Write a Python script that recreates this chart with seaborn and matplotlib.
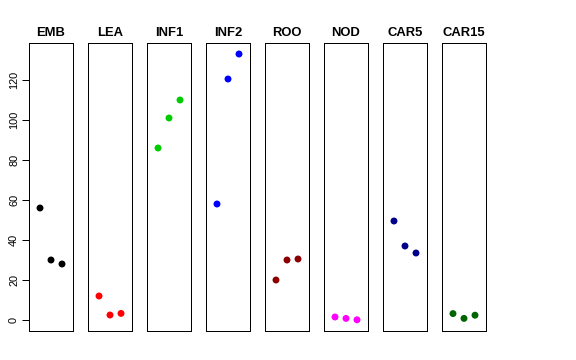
import seaborn as sns
import matplotlib.pyplot as plt
import pandas as pd

# tissue panels, three replicates each
tissues = ["EMB", "LEA", "INF1", "INF2", "ROO", "NOD", "CAR5", "CAR15"]
colors = ["black", "red", "#00CD00", "blue", "#8B0000", "magenta", "#00008B", "#006400"]
replicate = [1, 2, 3]

emb = [56, 30, 28]
lea = [12, 2.5, 3.3]
inf1 = [86, 101, 110]
inf2 = [58, 120.5, 133]
roo = [20, 30, 30.5]
nod = [1.5, 0.8, 0.1]
car5 = [49.5, 37, 33.5]
car15 = [3.2, 0.8, 2.4]

values = [emb, lea, inf1, inf2, roo, nod, car5, car15]

sns.set_style("white")
plt.rcParams['font.family'] = ['Liberation Sans', 'DejaVu Sans']
plt.rcParams['text.color'] = 'black'
plt.rcParams['ytick.color'] = 'black'

fig, axes = plt.subplots(1, 8, figsize=(8, 5), dpi=72, sharey=True)
fig.subplots_adjust(left=29/576, right=486/576, top=1-43/360, bottom=1-331/360, wspace=0.34)

for ax, name, col, vals in zip(axes, tissues, colors, values):
    df = pd.DataFrame({"rep": replicate, "expr": vals})
    sns.scatterplot(data=df, x="rep", y="expr", color=col, s=48, edgecolor="none", ax=ax)
    ax.set_xlim(0, 4)
    ax.set_ylim(-5.5, 138.5)
    ax.set_title(name, fontsize=13, fontweight="bold", pad=7, color="black")
    ax.set_xlabel("")
    ax.set_ylabel("")
    ax.set_xticks([])
    for sp in ax.spines.values():
        sp.set_visible(True)
        sp.set_color("black")
        sp.set_linewidth(1)
    ax.tick_params(axis="y", left=False, labelleft=False)

axes[0].set_yticks([0, 20, 40, 60, 80, 100, 120])
axes[0].tick_params(axis="y", left=True, labelleft=True, length=7, width=1, pad=3,
                    labelsize=11, color="black", labelcolor="black", labelrotation=90)
for lbl in axes[0].get_yticklabels():
    lbl.set_verticalalignment("center")

plt.savefig("out.png")
